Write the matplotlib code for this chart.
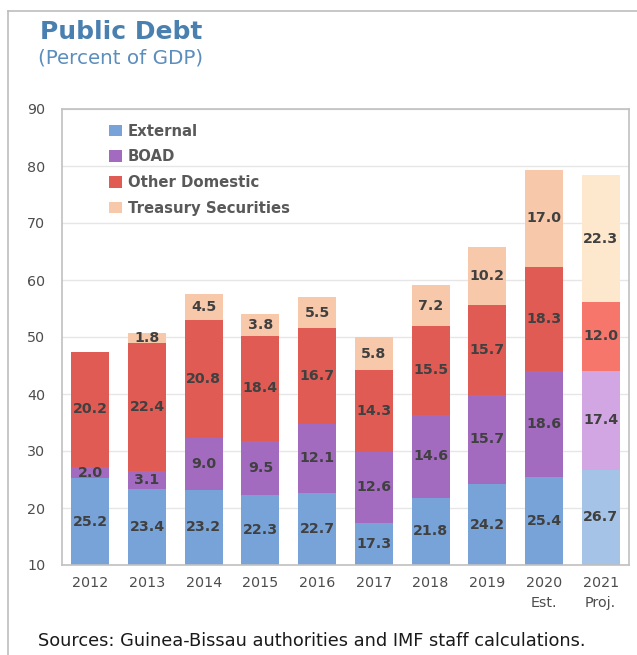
import matplotlib.pyplot as plt
from matplotlib.lines import Line2D
from matplotlib.patches import Patch

years = ['2012', '2013', '2014', '2015', '2016', '2017', '2018', '2019', '2020\nEst.', '2021\nProj.']
external = [25.2, 23.4, 23.2, 22.3, 22.7, 17.3, 21.8, 24.2, 25.4, 26.7]
boad = [2.0, 3.1, 9.0, 9.5, 12.1, 12.6, 14.6, 15.7, 18.6, 17.4]
other_domestic = [20.2, 22.4, 20.8, 18.4, 16.7, 14.3, 15.5, 15.7, 18.3, 12.0]
treasury = [0.0, 1.8, 4.5, 3.8, 5.5, 5.8, 7.2, 10.2, 17.0, 22.3]

series = [
    ('External', external, '#77a3d8', '#a5c3e6'),
    ('BOAD', boad, '#a36bbf', '#d2a6e3'),
    ('Other Domestic', other_domestic, '#e05b53', '#f7766c'),
    ('Treasury Securities', treasury, '#f7c9aa', '#fde7cd'),
]

plt.rcParams['font.family'] = ['DejaVu Sans']

fig = plt.figure(figsize=(6.37, 6.55), dpi=100)
ax = fig.add_axes([62 / 637, 1 - 565 / 655, 567 / 637, 456 / 655])

YMIN, YMAX = 10, 90
x = range(len(years))
bottom = [0.0] * len(years)
for name, vals, color, proj_color in series:
    colors = [color] * (len(years) - 1) + [proj_color]
    ax.bar(x, vals, 0.67, bottom=bottom, color=colors, edgecolor='none', zorder=2)
    for i, v in enumerate(vals):
        if v > 0:
            # label sits in the middle of the visible part of the segment
            lo = max(bottom[i], YMIN)
            ax.text(i, (lo + bottom[i] + v) / 2, f'{v:.1f}', ha='center', va='center',
                    fontsize=10.2, fontweight='bold', color='#404040', zorder=3)
    bottom = [b + v for b, v in zip(bottom, vals)]

ax.set_ylim(YMIN, YMAX)
ax.set_xlim(-0.5, len(years) - 0.5)
ax.set_yticks(range(10, 91, 10))
ax.set_xticks(list(x))
ax.set_xticklabels(years)
for lbl in ax.get_xticklabels():
    lbl.set_linespacing(1.5)
ax.tick_params(length=0, labelsize=10.3, labelcolor='#4d4d4d')
ax.tick_params(axis='y', pad=12)
ax.tick_params(axis='x', pad=8)
ax.grid(axis='y', color='#e6e6e6', linewidth=1, zorder=0)
ax.set_axisbelow(True)
for sp in ax.spines.values():
    sp.set_color('#c0c0c0')
    sp.set_linewidth(1.2)

handles = [Patch(facecolor=c, edgecolor='none', label=n) for n, _, c, _ in series]
leg = ax.legend(handles=handles, loc='upper left', bbox_to_anchor=(0.083, 0.968),
                frameon=False, borderpad=0, borderaxespad=0, handlelength=0.85,
                handleheight=0.8, handletextpad=0.4, labelspacing=0.72,
                prop={'size': 10.7, 'weight': 'bold'})
for t in leg.get_texts():
    t.set_color('#595959')

fig.text(40 / 637, 1 - 32 / 655, 'Public Debt', fontsize=18, fontweight='bold',
         color='#4a80b0', va='center', ha='left')
fig.text(38 / 637, 1 - 58 / 655, '(Percent of GDP)', fontsize=14.3,
         color='#5b8dbd', va='center', ha='left')
fig.text(38 / 637, 1 - 641 / 655, 'Sources: Guinea-Bissau authorities and IMF staff calculations.',
         fontsize=12.8, color='#1a1a1a', va='center', ha='left')

# outer frame lines (left and top)
fig.add_artist(Line2D([8 / 637, 8 / 637], [0, 1 - 11 / 655], color='#bdbdbd', lw=1.2))
fig.add_artist(Line2D([8 / 637, 1], [1 - 11 / 655, 1 - 11 / 655], color='#bdbdbd', lw=1.2))

fig.savefig('out.png', dpi=100)
